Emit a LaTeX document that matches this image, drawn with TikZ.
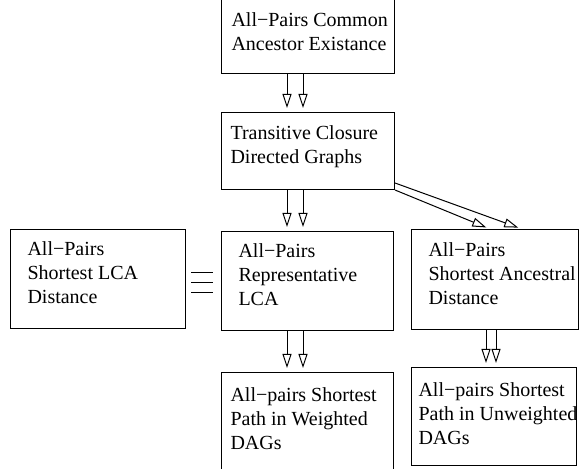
\documentclass[tikz,border=0pt]{standalone}
\usepackage{fontspec}
\setmainfont{Liberation Serif}
\usepackage{tikz}
\usetikzlibrary{arrows.meta}

\begin{document}
\begin{tikzpicture}[x=0.5pt, y=-0.5pt, line width=0.5pt,
        fbox/.style={draw, anchor=north west, inner sep=0pt},
        ftext/.style={anchor=north west, inner sep=0pt, align=left, font=\fontsize{10}{12}\selectfont},
        arr/.style={-{Triangle[open, length=7pt, width=4.5pt]}, shorten >=2pt}]
            \useasboundingbox (0,0) rectangle (579,469);
            % boxes
            \node[fbox, minimum width=86.5pt, minimum height=37.5pt] (cae) at (221,-2) {};
            \node[fbox, minimum width=86.5pt, minimum height=38.5pt] (tc) at (221,112) {};
            \node[fbox, minimum width=86pt, minimum height=49.5pt] (rlca) at (221,231) {};
            \node[fbox, minimum width=83.5pt, minimum height=50pt] (sad) at (411,229) {};
            \node[fbox, minimum width=87.5pt, minimum height=49.5pt] (slca) at (10,229) {};
            \node[fbox, minimum width=86pt, minimum height=54pt] (wdag) at (221,372) {};
            \node[fbox, minimum width=82.5pt, minimum height=49pt] (udag) at (411,367) {};
            % texts
            \node[ftext] (caetext) at (231,12) {All−Pairs Common\\Ancestor Existance};
            \node[ftext] (tctext) at (230,125) {Transitive Closure\\Directed Graphs};
            \node[ftext] (rlcatext) at (238,243) {All−Pairs\\Representative\\LCA};
            \node[ftext] (sadtext) at (428,242) {All−Pairs\\Shortest Ancestral\\Distance};
            \node[ftext] (slcatext) at (27,241) {All−Pairs\\Shortest LCA\\Distance};
            \node[ftext] (wdagtext) at (230,387) {All−pairs Shortest\\Path in Weighted\\DAGs};
            \node[ftext] (udagtext) at (418,382) {All−pairs Shortest\\Path in Unweighted\\DAGs};
            % reductions
            \foreach \s in {33pt,41pt}{
                \draw[arr] ([xshift=\s]cae.south west) -- ([xshift=\s]tc.north west);
                \draw[arr] ([xshift=\s]tc.south west) -- ([xshift=\s]rlca.north west);
                \draw[arr] ([xshift=\s]rlca.south west) -- ([xshift=\s]wdag.north west);
            }
            \foreach \s in {37.5pt,42.5pt}
                \draw[arr] ([xshift=\s]sad.south west) -- ([xshift=\s]udag.north west);
            \draw[arr] ([yshift=3.5pt]tc.south east) -- ([xshift=55.5pt]sad.north west);
            \draw[arr] (tc.south east) -- ([xshift=39.5pt]sad.north west);
            % equivalence
            \foreach \y in {273,283,293}
                \draw (191,\y) -- (213,\y);
\end{tikzpicture}
\end{document}
